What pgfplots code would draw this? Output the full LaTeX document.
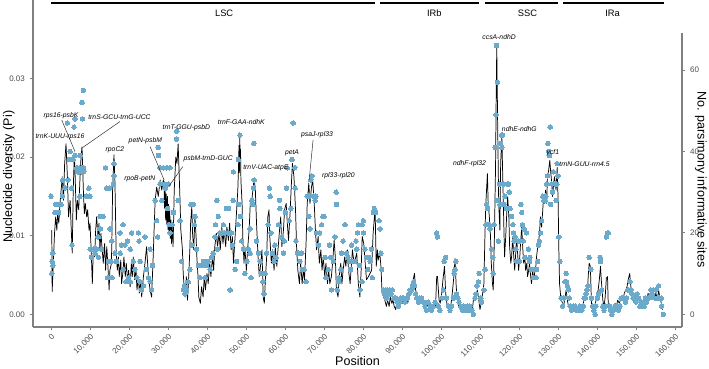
\documentclass[border=0pt]{standalone}
\usepackage{pgfplots}
\pgfplotsset{compat=1.18}
\usepackage{pgfplotstable}
\usepackage{fontspec}
\setmainfont{Liberation Sans}

\definecolor{dotblue}{RGB}{108,170,204}
\definecolor{axisgray}{RGB}{128,128,128}
\definecolor{ticktext}{RGB}{77,77,77}

% Sliding-window nucleotide diversity
\pgfplotstableread{
pos pi
200 0.0107
300 0.0029
600 0.0065
900 0.0103
1200 0.0124
1500 0.0107
1700 0.0128
2000 0.0116
2300 0.0141
2600 0.0158
2900 0.0175
3200 0.0145
3500 0.0192
3850 0.0217
4200 0.0175
4500 0.0124
4900 0.0145
5200 0.0107
5450 0.0078
5700 0.0158
6000 0.0205
6200 0.0175
6500 0.0120
6750 0.0145
7100 0.0133
7450 0.0175
7700 0.0200
7950 0.0213
8300 0.0158
8550 0.0128
8800 0.0141
9150 0.0124
9400 0.0133
9750 0.0107
10000 0.0116
10300 0.0082
10600 0.0039
10850 0.0082
11200 0.0073
11450 0.0107
11700 0.0124
12050 0.0099
12300 0.0116
12550 0.0082
12800 0.0103
13200 0.0078
13400 0.0065
13750 0.0090
14000 0.0056
14300 0.0086
14600 0.0061
14900 0.0031
15100 0.0056
15500 0.0065
15800 0.0158
16150 0.0203
16400 0.0167
16700 0.0082
17000 0.0056
17300 0.0073
17500 0.0048
17900 0.0069
18100 0.0039
18500 0.0056
18700 0.0073
19050 0.0048
19300 0.0065
19700 0.0039
19900 0.0056
20300 0.0035
20600 0.0065
20850 0.0048
21100 0.0073
21450 0.0044
21800 0.0056
22050 0.0031
22400 0.0048
22650 0.0027
23000 0.0044
23250 0.0022
23700 0.0048
24100 0.0065
24500 0.0086
25000 0.0048
25400 0.0031
25800 0.0022
26200 0.0073
26700 0.0145
27100 0.0162
27500 0.0150
28000 0.0171
28400 0.0158
28800 0.0171
29000 0.0165
29100 0.0135
29250 0.0160
29400 0.0120
29550 0.0153
29700 0.0115
29850 0.0150
30000 0.0108
30150 0.0140
30300 0.0102
30450 0.0133
30600 0.0096
30750 0.0120
30900 0.0090
31050 0.0116
31300 0.0086
31600 0.0158
32000 0.0200
32300 0.0192
32600 0.0217
33000 0.0158
33300 0.0107
33700 0.0082
33900 0.0052
34200 0.0031
34400 0.0022
34700 0.0048
35000 0.0018
35200 0.0035
35600 0.0082
35800 0.0116
36100 0.0137
36300 0.0103
36600 0.0082
36900 0.0124
37200 0.0099
37400 0.0073
37700 0.0048
37900 0.0022
38300 0.0014
38600 0.0035
39000 0.0022
39300 0.0048
39600 0.0031
40000 0.0052
40300 0.0039
40700 0.0065
41000 0.0048
41400 0.0073
41700 0.0056
42000 0.0086
42400 0.0103
42700 0.0086
43100 0.0103
43400 0.0082
43800 0.0111
44100 0.0090
44400 0.0107
44800 0.0086
45100 0.0111
45500 0.0094
45800 0.0116
46200 0.0082
46500 0.0099
46800 0.0065
47200 0.0099
47500 0.0124
47900 0.0158
48100 0.0190
48200 0.0215
48300 0.0180
48400 0.0226
48500 0.0195
48600 0.0210
48700 0.0170
49000 0.0141
49200 0.0094
49500 0.0065
49700 0.0086
50100 0.0056
50400 0.0082
50800 0.0107
51100 0.0141
51500 0.0145
51800 0.0160
52100 0.0173
52400 0.0158
52700 0.0116
53100 0.0073
53400 0.0048
53800 0.0065
54100 0.0082
54400 0.0022
54700 0.0014
55000 0.0048
55300 0.0073
55600 0.0124
55900 0.0133
56100 0.0099
56500 0.0065
56800 0.0082
57200 0.0056
57500 0.0086
57900 0.0061
58200 0.0082
58600 0.0107
58900 0.0124
59200 0.0086
59600 0.0107
59900 0.0133
60300 0.0141
60600 0.0116
60900 0.0094
61300 0.0128
61600 0.0162
61900 0.0192
62300 0.0175
62700 0.0133
63000 0.0082
63300 0.0056
63700 0.0039
64000 0.0065
64400 0.0039
64700 0.0056
65000 0.0044
65400 0.0090
65700 0.0141
66100 0.0167
66400 0.0141
66800 0.0162
67100 0.0171
67500 0.0141
67800 0.0107
68100 0.0082
68500 0.0099
68800 0.0065
69200 0.0082
69500 0.0056
69800 0.0073
70200 0.0048
70500 0.0065
70900 0.0039
71200 0.0056
71500 0.0039
71900 0.0048
72200 0.0065
72600 0.0094
72900 0.0073
73200 0.0031
73600 0.0022
73900 0.0048
74300 0.0065
74600 0.0039
74900 0.0056
75300 0.0073
75600 0.0061
76000 0.0082
76300 0.0056
76700 0.0039
77000 0.0061
77300 0.0082
77700 0.0065
78000 0.0070
78400 0.0078
78800 0.0039
79200 0.0022
79500 0.0052
79800 0.0099
80200 0.0090
80500 0.0069
80900 0.0044
81400 0.0048
81800 0.0052
82200 0.0056
82600 0.0103
83100 0.0135
83400 0.0061
83700 0.0082
83900 0.0069
84300 0.0078
84600 0.0061
84900 0.0027
85300 0.0022
85600 0.0018
86000 0.0010
86300 0.0018
86700 0.0010
87000 0.0022
87400 0.0014
87700 0.0018
88000 0.0010
88400 0.0006
88700 0.0018
89100 0.0014
89400 0.0010
89700 0.0018
90100 0.0014
90400 0.0018
90800 0.0022
91100 0.0018
91400 0.0014
91800 0.0020
92100 0.0027
92500 0.0035
92800 0.0042
93200 0.0052
93500 0.0031
93900 0.0022
94200 0.0018
94500 0.0014
94900 0.0018
95200 0.0020
95600 0.0016
95900 0.0014
96200 0.0010
96600 0.0012
96900 0.0010
97300 0.0014
97600 0.0012
97900 0.0010
98300 0.0012
98600 0.0010
98900 0.0048
99100 0.0048
99500 0.0018
99800 0.0014
100200 0.0027
100500 0.0044
100900 0.0061
101200 0.0027
101500 0.0014
101900 0.0010
102200 0.0006
102600 0.0014
102900 0.0027
103300 0.0048
103600 0.0071
103900 0.0035
104300 0.0014
104600 0.0010
104900 0.0006
105300 0.0008
105600 0.0006
106000 0.0008
106300 0.0006
106700 0.0008
107000 0.0006
107400 0.0008
107700 0.0006
108000 0.0003
108300 0.0018
108700 0.0027
109000 0.0022
109300 0.0031
109700 0.0018
110000 0.0006
110300 0.0014
110700 0.0027
111000 0.0039
111300 0.0107
111500 0.0141
111900 0.0179
112100 0.0141
112400 0.0124
112700 0.0099
112900 0.0065
113200 0.0039
113400 0.0031
113700 0.0099
114000 0.0192
114150 0.0277
114300 0.0340
114550 0.0234
114800 0.0141
115100 0.0107
115300 0.0192
115600 0.0226
115800 0.0183
116100 0.0116
116300 0.0073
116600 0.0099
116900 0.0133
117100 0.0150
117400 0.0124
117600 0.0086
117900 0.0065
118100 0.0073
118400 0.0099
118600 0.0078
118900 0.0056
119100 0.0073
119400 0.0099
119700 0.0073
119900 0.0056
120200 0.0073
120400 0.0090
120700 0.0111
120900 0.0090
121200 0.0065
121500 0.0073
121700 0.0056
122000 0.0065
122200 0.0048
122500 0.0056
122700 0.0065
123000 0.0048
123200 0.0039
123500 0.0056
123800 0.0044
124000 0.0052
124300 0.0060
124500 0.0073
124800 0.0086
125000 0.0090
125300 0.0107
125500 0.0124
125800 0.0111
126100 0.0133
126300 0.0150
126600 0.0141
126800 0.0158
127100 0.0141
127300 0.0175
127600 0.0183
127900 0.0196
128100 0.0183
128400 0.0167
128600 0.0150
128900 0.0167
129100 0.0175
129500 0.0158
129800 0.0187
130050 0.0141
130200 0.0086
130400 0.0039
130700 0.0022
130900 0.0018
131400 0.0010
131700 0.0018
132100 0.0031
132400 0.0018
132700 0.0010
133100 0.0006
133400 0.0010
133800 0.0006
134100 0.0010
134400 0.0006
134800 0.0008
135100 0.0006
135500 0.0008
135800 0.0006
136200 0.0010
136500 0.0014
136800 0.0022
137200 0.0018
137500 0.0027
137800 0.0052
138000 0.0065
138300 0.0061
138600 0.0010
138900 0.0006
139200 0.0010
139600 0.0014
139900 0.0022
140300 0.0031
140600 0.0044
140900 0.0061
141100 0.0044
141500 0.0018
141800 0.0010
142100 0.0022
142400 0.0046
142700 0.0048
142900 0.0010
143300 0.0006
143600 0.0010
143900 0.0006
144300 0.0010
144600 0.0014
145000 0.0010
145300 0.0018
145700 0.0014
146000 0.0018
146300 0.0022
146700 0.0018
147000 0.0027
147400 0.0031
147700 0.0035
148000 0.0044
148400 0.0052
148600 0.0039
149000 0.0022
149300 0.0018
149700 0.0014
150000 0.0018
150400 0.0022
150700 0.0018
151000 0.0014
151400 0.0018
151700 0.0010
152000 0.0014
152400 0.0018
152700 0.0014
153100 0.0027
153400 0.0018
153800 0.0027
154100 0.0022
154400 0.0031
154800 0.0018
155100 0.0027
155500 0.0018
155800 0.0031
156100 0.0022
156500 0.0014
156800 0.0006
}\pidata

% Parsimony-informative sites per window
\pgfplotstableread{
pos sites
0 29
200 10
300 13
450 15
500 12
1000 25
1200 27
1700 27
1900 25
2600 27
2900 29
3000 33
3600 31
4200 47
4400 33
4700 38
4900 40
5300 31
5400 17
5700 38
5900 46
6100 39
6200 48
6600 36
6800 35
7200 35
7300 36
7400 29
7450 39
7800 35
7900 36
7950 52
8100 48
8300 55
8350 36
8400 35
9100 29
9700 31
10000 29
10050 16
10400 14
10900 16
11300 15
11700 16
12100 19
12150 14
12400 21
12600 24
12700 21
13000 16
13400 24
14000 36
14300 31
14500 9
14700 13
15000 31
15100 21
15400 13
15600 18
15650 9
16000 32
16150 37
16200 34
16400 15
16800 13
17700 20
17750 15
18100 17
18500 22
18550 11
19000 17
19200 8
19600 18
19900 9
20300 16
20350 8
20700 20
21100 13
21500 11
22000 9
22400 20
22600 18
22800 8
22850 13
23200 6
23700 7
24100 19
24500 11
25000 9
25400 16
25450 8
25800 6
26000 12
26700 28
27100 23
27350 19
27500 41
27550 39
27900 36
27950 32
28400 28
28800 36
29100 32
29400 31
29700 36
29900 26
30100 32
30300 22
30500 36
30550 20
31000 22
31400 25
32200 43
32250 45
32600 28
33100 23
33500 13
34000 6
34200 7
34400 5
34800 6
35200 8
35600 11
35900 27
36100 17
36500 27
36750 22
36900 24
37350 16
37800 12
38200 9
38600 12
39100 13
39500 9
39900 12
40300 13
40800 11
41200 14
41600 15
42100 19
42200 22
42500 28
42700 16
42900 24
43300 20
43800 20
44200 22
44600 20
45000 26
45500 20
45550 26
45900 20
45950 6
46300 20
46500 17
46700 28
46750 35
47200 11
47600 13
48000 22
48050 38
48200 27
48450 44
48600 24
48900 18
49300 16
49700 10
50200 13
50600 16
51000 21
51050 15
51300 9
51500 28
51700 27
51900 31
52000 42
52100 33
52700 18
53200 15
53600 13
54000 10
54300 8
54600 5
54900 10
55300 15
55700 22
56000 31
56200 29
56400 20
56800 15
57200 13
57400 17
57700 14
58300 22
58600 28
58700 26
59100 19
59600 15
59800 18
60100 25
60400 31
60600 36
61100 23
61500 26
61800 38
62100 47
62500 36
62600 31
62800 18
63200 15
63500 15
63800 13
64300 15
64500 11
64900 11
65400 8
65700 29
66100 24
66200 29
66400 21
66600 33
66900 34
67300 29
67700 28
67900 29
68100 20
68600 17
68900 20
69400 22
69700 24
70000 24
70300 14
70500 9
71100 11
71400 17
71700 14
71900 6
72400 13
72800 19
73100 30
73200 27
73400 6
73700 8
73900 9
74300 11
74500 15
74900 18
75400 22
75800 15
76100 14
76500 13
76800 11
77100 17
77500 13
77900 13
78200 18
78400 16
78600 20
78800 22
79100 12
79200 6
79700 22
79750 8
79800 22
80100 23
80150 20
80500 16
80900 14
81200 11
81500 14
81800 13
82200 16
82400 9
82700 25
82900 26
83200 25
84100 23
84400 21
84600 15
84800 11
85200 6
85500 5
85800 6
86100 4
86300 6
86700 5
86900 6
87200 5
87500 6
88000 4
88400 4
88700 3
89100 2
89400 3
89700 4
90100 4
90400 4
90800 3
91100 4
91400 4
91800 5
92100 6
92500 6
92700 7
93000 8
93200 7
93500 5
93800 4
94200 3
94600 4
95000 4
95500 3
95900 2
96300 1
96700 3
97200 2
97600 1
98000 2
98500 3
98900 20
99100 19
99300 2
99700 1
100200 4
100600 6
100800 13
101200 14
101400 4
101900 2
102300 1
102700 2
103200 4
103400 10
103600 11
103800 13
104000 5
104300 4
104600 3
105100 2
105500 1
105800 2
106200 1
106700 2
107000 1
107400 2
107900 1
108300 0
108700 4
109000 5
109200 7
109600 8
109800 10
110200 4
110400 3
111000 6
111300 11
111500 22
111700 27
111900 26
112100 22
112400 22
112600 21
113000 16
113300 14
113400 10
113600 22
113900 41
114100 49
114250 66
114300 28
114450 57
114700 18
115000 32
115100 27
115300 42
115550 44
115600 41
115800 44
116000 32
116100 27
116400 29
116800 26
117000 32
117300 32
117500 30
117700 26
118100 24
118400 22
118600 20
118700 18
119000 19
119200 16
119400 13
119800 18
120100 13
120300 18
120500 27
120700 25
120900 22
121100 18
121300 21
121500 14
121900 20
122400 16
122700 13
122800 14
123200 11
123700 9
124100 11
124400 9
124500 11
124800 13
125000 17
125200 18
125500 20
125800 23
126100 29
126400 28
126700 28
126900 29
127100 32
127300 34
127400 42
127600 40
127800 39
128000 46
128100 27
128400 32
128600 30
128800 35
129200 32
129500 28
129700 32
129800 37
130000 34
130200 19
130500 13
130800 4
131200 2
131500 4
131800 8
132100 10
132200 8
132400 7
132700 6
132900 4
133100 2
133500 1
133900 2
134400 2
134800 1
135200 1
135600 2
136100 1
136500 2
136700 4
137000 4
137200 5
137400 6
137700 7
138000 14
138400 11
138600 4
138900 2
139200 1
139500 0
139700 2
140100 4
140400 5
140800 14
140900 13
141200 6
141500 2
141800 1
142100 2
142400 19
142700 20
142900 20
143200 2
143500 1
143800 0
144200 1
144600 2
145000 2
145500 1
145900 2
146200 4
146600 4
146900 4
147300 3
147600 4
147900 6
148200 6
148500 8
148700 6
149000 5
149300 4
149700 4
150000 3
150300 5
150700 4
151000 2
151400 3
151700 2
152100 2
152400 4
152700 3
153100 4
153400 4
153800 6
154100 5
154400 6
154800 4
155100 6
155500 4
155800 7
156100 4
156500 4
156600 2
157000 0
}\sitedata

\begin{document}
\begin{tikzpicture}
\pgfplotsset{
  every axis/.append style={
    scale only axis, width=486.75pt, height=245.25pt,
    xmin=-4615, xmax=161800,
    /pgf/number format/assume math mode=true,
    tick align=outside, major tick length=2.6pt,
    every tick/.style={draw=axisgray, line width=0.7pt},
    tick label style={font=\fontsize{6}{7}\selectfont, text=ticktext},
    label style={font=\fontsize{9.4}{11}\selectfont, text=black},
  },
}
% left scale: nucleotide diversity
\begin{axis}[
  name=main,
  ymin=-0.00162, ymax=0.0400,
  axis x line*=bottom, axis y line*=left,
  axis line style={draw=axisgray, line width=0.9pt},
  xtick={0,10000,...,160000},
  ytick={0,0.01,0.02,0.03},
  scaled x ticks=false, scaled y ticks=false,
  xticklabel style={rotate=45, anchor=north east, inner sep=1.2pt,
    /pgf/number format/.cd, fixed, 1000 sep={,}},
  yticklabel style={/pgf/number format/.cd, fixed, fixed zerofill, precision=2},
  xlabel={Position},
  ylabel={Nucleotide diversity (Pi)},
  xlabel style={at={(axis description cs:0.5,-0.117)}, anchor=base},
  ylabel style={at={(axis description cs:-0.037,0.46)}, anchor=center},
]
\addplot[black, line width=0.55pt, line join=round] table[x=pos, y=pi] {\pidata};
\end{axis}

% right scale: parsimony informative sites
\begin{axis}[
  ymin=-3.12, ymax=77.2,
  clip=false,
  axis x line=none, axis y line*=right,
  y axis line style={draw=none},
  ytick={0,20,40,60},
  ylabel={No. parsimony informative sites},
  ylabel style={at={(axis description cs:1.029,0.451)}, anchor=center, rotate=180},
]
\addplot[only marks, mark=*, mark size=1.7pt, color=dotblue,
  mark options={fill=dotblue, draw=dotblue, line width=0pt}]
  table[x=pos, y=sites] {\sitedata};
\draw[axisgray, line width=0.9pt] (axis cs:161800,-3.12) -- (axis cs:161800,69.1);
\end{axis}

% region bars and annotated hotspots
\begin{axis}[
  hide axis, clip=false,
  ymin=-0.00162, ymax=0.0400,
]
\draw[black, line width=1.1pt] (axis cs:0,0.03964) -- (axis cs:83100,0.03964);
\draw[black, line width=1.1pt] (axis cs:84400,0.03964) -- (axis cs:109700,0.03964);
\draw[black, line width=1.1pt] (axis cs:111300,0.03964) -- (axis cs:130000,0.03964);
\draw[black, line width=1.1pt] (axis cs:131300,0.03964) -- (axis cs:157200,0.03964);
\begin{scope}[every node/.style={font=\fontsize{7}{8}\selectfont}]
\node at (axis cs:44400,0.0383) {LSC};
\node at (axis cs:98300,0.0383) {IRb};
\node at (axis cs:122200,0.0383) {SSC};
\node at (axis cs:144000,0.0383) {IRa};
\end{scope}
\begin{scope}[every node/.style={font=\fontsize{5.1}{6}\selectfont\itshape, inner sep=0.3pt}]
\node at (axis cs:2560,0.02524) {rps16-psbK};
\draw[black!85, line width=0.35pt] (axis cs:2740,0.02474) -- (axis cs:6150,0.02071);
\node at (axis cs:17560,0.02512) {trnS-GCU-trnG-UCC};
\draw[black!85, line width=0.35pt] (axis cs:17700,0.02453) -- (axis cs:7870,0.02114);
\node at (axis cs:2300,0.02258) {trnK-UUU-rps16};
\node at (axis cs:16400,0.02092) {rpoC2};
\node at (axis cs:24200,0.02207) {petN-psbM};
\draw[black!85, line width=0.35pt] (axis cs:25400,0.02134) -- (axis cs:29000,0.0171);
\node at (axis cs:22800,0.01723) {rpoB-petN};
\node at (axis cs:34700,0.02372) {trnT-GGU-psbD};
\node at (axis cs:40300,0.01978) {psbM-trnD-GUC};
\draw[black!85, line width=0.35pt] (axis cs:33800,0.0188) -- (axis cs:30300,0.01634);
\node at (axis cs:48800,0.02449) {trnF-GAA-ndhK};
\node at (axis cs:55100,0.01863) {trnV-UAC-atpE};
\node at (axis cs:61800,0.02054) {petA};
\node at (axis cs:68200,0.02283) {psaJ-rpl33};
\draw[black!85, line width=0.35pt] (axis cs:67200,0.02219) -- (axis cs:66200,0.01710);
\node at (axis cs:73700,0.01761) {rpl33-rpl20};
\node at (axis cs:114900,0.03531) {ccsA-ndhD};
\node at (axis cs:120100,0.0236) {ndhE-ndhG};
\node at (axis cs:107300,0.01914) {ndhF-rpl32};
\node at (axis cs:128700,0.02054) {ycf1};
\node at (axis cs:136800,0.01914) {trnN-GUU-rrn4.5};
\end{scope}
\end{axis}

\pgfresetboundingbox
\path[use as bounding box] ([shift={(-24.75pt,-30.75pt)}]main.south west)
  rectangle ([shift={(20.25pt,0pt)}]main.north east);
\end{tikzpicture}
\end{document}
